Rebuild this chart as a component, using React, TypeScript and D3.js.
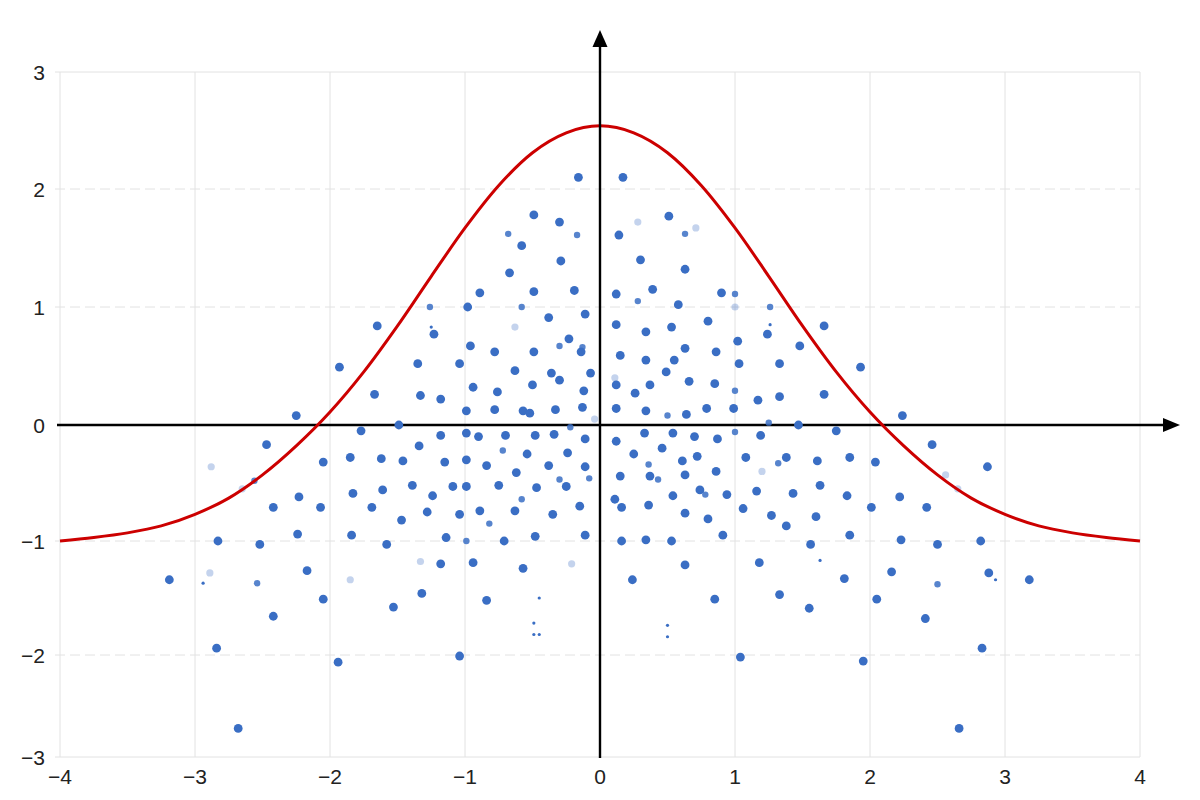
import React from 'react'
import * as d3 from 'd3'

// tick values
const xTicks = [-4, -3, -2, -1, 0, 1, 2, 3, 4]
const yTicks = [-3, -2, -1, 0, 1, 2, 3]

// red curve, every 0.25
const curveX = [-4, -3.75, -3.5, -3.25, -3, -2.75, -2.5, -2.25, -2, -1.75, -1.5, -1.25, -1, -0.75, -0.5, -0.25,
  0, 0.25, 0.5, 0.75, 1, 1.25, 1.5, 1.75, 2, 2.25, 2.5, 2.75, 3, 3.25, 3.5, 3.75, 4]
const curveY = [-1.0, -0.97, -0.93, -0.87, -0.77, -0.63, -0.43, -0.18, 0.11, 0.45, 0.84, 1.26, 1.67, 2.03, 2.31, 2.48,
  2.54, 2.48, 2.31, 2.03, 1.67, 1.26, 0.84, 0.45, 0.11, -0.18, -0.43, -0.63, -0.77, -0.87, -0.93, -0.97, -1.0]

// regular dots
const mainPoints: [number, number][] = [
  // left, outer
  [-2.25, 0.08], [-2.47, -0.17], [-2.05, -0.32], [-2.23, -0.62], [-2.42, -0.71], [-2.07, -0.71], [-2.24, -0.94],
  [-2.83, -1.0], [-2.52, -1.03], [-2.17, -1.26], [-3.19, -1.34], [-2.05, -1.51], [-2.42, -1.66], [-2.84, -1.94],
  [-2.68, -2.72],
  // left, lower
  [-1.77, -0.05], [-1.49, 0.0], [-1.18, -0.09], [-0.99, -0.07], [-0.9, -0.1], [-0.7, -0.09], [-0.48, -0.09],
  [-0.34, -0.08], [-0.11, -0.12], [-1.85, -0.28], [-1.62, -0.29], [-1.46, -0.31], [-1.34, -0.18], [-1.15, -0.32],
  [-0.99, -0.3], [-0.84, -0.35], [-0.54, -0.25], [-0.62, -0.41], [-0.38, -0.35], [-0.24, -0.24], [-0.11, -0.36],
  [-0.47, -0.54], [-0.25, -0.53], [-0.75, -0.52], [-0.99, -0.53], [-1.09, -0.53], [-1.39, -0.52], [-1.24, -0.61],
  [-1.61, -0.56], [-1.83, -0.59], [-1.69, -0.71], [-1.47, -0.82], [-1.28, -0.75], [-1.04, -0.77], [-0.89, -0.74],
  [-0.63, -0.74], [-0.35, -0.77], [-0.15, -0.7], [-1.84, -0.95], [-1.58, -1.03], [-1.14, -0.97], [-0.71, -1.0],
  [-0.48, -0.96], [-0.11, -0.95], [-1.18, -1.2], [-0.94, -1.19], [-0.57, -1.24], [-1.53, -1.58], [-1.32, -1.46],
  [-0.84, -1.52], [-1.94, -2.07], [-1.04, -2.01],
  // left, upper
  [-0.16, 2.1], [-0.49, 1.78], [-0.3, 1.72], [-0.58, 1.52], [-0.29, 1.39], [-0.67, 1.29], [-0.89, 1.12],
  [-0.49, 1.13], [-0.19, 1.14], [-0.98, 1.0], [-0.38, 0.91], [-0.11, 0.94], [-1.65, 0.84], [-1.23, 0.77],
  [-0.96, 0.67], [-0.78, 0.62], [-0.49, 0.62], [-0.23, 0.73], [-0.14, 0.62], [-1.93, 0.49], [-1.35, 0.52],
  [-1.04, 0.52], [-0.63, 0.46], [-0.36, 0.44], [-0.3, 0.38], [-0.07, 0.44], [-1.67, 0.26], [-1.33, 0.25],
  [-1.18, 0.22], [-0.94, 0.32], [-0.76, 0.28], [-0.5, 0.34], [-0.12, 0.29], [-0.33, 0.13], [-0.13, 0.15],
  [-0.99, 0.12], [-0.78, 0.13], [-0.57, 0.12], [-0.52, 0.1],
  // right, outer
  [2.24, 0.08], [2.46, -0.17], [2.04, -0.32], [2.87, -0.36], [2.22, -0.62], [2.42, -0.71], [2.01, -0.71],
  [2.23, -0.99], [2.5, -1.03], [2.82, -1.0], [2.16, -1.27], [2.88, -1.28], [3.18, -1.34], [2.05, -1.51],
  [2.41, -1.68], [2.83, -1.94], [2.66, -2.72],
  // right, lower
  [0.12, -0.14], [0.33, -0.07], [0.54, -0.07], [0.7, -0.1], [0.87, -0.12], [1.19, -0.09], [1.47, 0.0],
  [1.75, -0.05], [0.25, -0.25], [0.46, -0.2], [0.61, -0.31], [0.72, -0.27], [0.86, -0.4], [1.08, -0.28],
  [1.38, -0.28], [1.61, -0.31], [1.85, -0.28], [0.15, -0.44], [0.37, -0.44], [0.63, -0.43], [0.74, -0.56],
  [0.54, -0.61], [0.94, -0.6], [1.16, -0.57], [1.43, -0.59], [1.63, -0.52], [1.83, -0.61], [0.11, -0.64],
  [0.16, -0.71], [0.36, -0.69], [0.63, -0.76], [0.8, -0.81], [1.06, -0.72], [1.27, -0.78], [1.38, -0.87],
  [1.6, -0.79], [0.91, -0.95], [0.16, -1.0], [0.34, -0.99], [0.53, -1.0], [1.56, -1.03], [1.85, -0.95],
  [0.63, -1.21], [1.18, -1.19], [0.24, -1.34], [0.85, -1.51], [1.33, -1.47], [1.55, -1.59], [1.81, -1.33],
  [1.04, -2.02], [1.95, -2.06],
  // right, upper
  [0.17, 2.1], [0.51, 1.77], [0.14, 1.61], [0.3, 1.4], [0.63, 1.32], [0.12, 1.11], [0.39, 1.15], [0.9, 1.12],
  [0.58, 1.02], [0.12, 0.85], [0.34, 0.79], [0.53, 0.83], [0.8, 0.88], [1.24, 0.77], [1.66, 0.84], [1.02, 0.71],
  [1.48, 0.67], [0.15, 0.59], [0.34, 0.55], [0.55, 0.55], [0.63, 0.65], [0.86, 0.62], [1.03, 0.52], [1.33, 0.52],
  [1.93, 0.49], [0.49, 0.45], [0.12, 0.34], [0.37, 0.34], [0.66, 0.37], [0.85, 0.35], [1.17, 0.21], [1.33, 0.24],
  [1.66, 0.26], [0.26, 0.27], [0.12, 0.14], [0.34, 0.12], [0.64, 0.09], [0.79, 0.14], [0.99, 0.14],
]

// smaller dots
const smallPoints: [number, number][] = [
  [-2.56, -0.48], [-2.54, -1.37], [-0.22, -0.02], [-0.72, -0.22], [-0.08, -0.46], [-0.3, -0.47], [-0.82, -0.85],
  [-0.58, -0.64], [-0.99, -1.0], [-0.68, 1.62], [-0.17, 1.61], [-0.58, 1.0], [-1.26, 1.0], [-0.3, 0.67],
  [-0.13, 0.66], [2.5, -1.38], [1.0, -0.06], [1.25, 0.02], [0.36, -0.34], [1.32, -0.33], [0.43, -0.47],
  [0.78, -0.6], [0.63, 1.62], [0.28, 1.05], [1.0, 1.11], [1.26, 1.0], [1.0, 0.29], [0.5, 0.08],
]

// pin-point dots
const tinyPoints: [number, number][] = [
  [-2.94, -1.37], [-0.45, -1.5], [-0.49, -1.72], [-0.49, -1.82], [-0.45, -1.82], [-1.25, 0.83],
  [2.93, -1.34], [1.63, -1.17], [0.5, -1.74], [0.5, -1.84], [1.26, 0.85],
]

// washed-out dots
const faintPoints: [number, number][] = [
  [-2.88, -0.36], [-2.65, -0.55], [-2.89, -1.28], [-0.21, -1.2], [-1.85, -1.34], [-1.33, -1.18], [-0.63, 0.83],
  [-0.04, 0.05], [2.56, -0.43], [2.65, -0.55], [1.2, -0.4], [0.28, 1.72], [0.71, 1.67], [1.0, 1.0], [0.11, 0.4],
]

const W = 1200
const H = 800
const DOT = '#3a6ec4'
const GRID = '#e2e2e2'

const x = d3.scaleLinear().domain([-4, 4]).range([60, 1140])
// the picture's y spacing is a little uneven, so pin every tick
const y = d3.scaleLinear().domain(yTicks).range([757, 655, 541, 425, 307, 189, 72])

const fmt = (v: number) => (v < 0 ? `\u2212${-v}` : `${v}`)

const App: React.FC = () => {
  const line = d3.line<number>()
    .x((d, i) => x(curveX[i]))
    .y(d => y(d))
    .curve(d3.curveMonotoneX)

  const x0 = x(0)
  const y0 = y(0)

  return (
    <svg
      width={W}
      height={H}
      style={{ position: 'absolute', left: 0, top: 0, background: '#fff' }}
      fontFamily="'Liberation Sans', Arial, sans-serif"
    >
      {/* vertical grid */}
      {xTicks.map(t => (
        <line key={`gx${t}`} x1={x(t)} x2={x(t)} y1={y(3)} y2={y(-3)} stroke={GRID} strokeWidth={1} />
      ))}
      {/* horizontal grid: solid at the edges, dashed inside */}
      {yTicks.filter(t => t !== 0).map(t => (
        <line
          key={`gy${t}`}
          x1={55}
          x2={x(4)}
          y1={y(t)}
          y2={y(t)}
          stroke={GRID}
          strokeWidth={1}
          strokeDasharray={Math.abs(t) === 3 ? undefined : '10,5'}
        />
      ))}

      {/* x axis */}
      <line x1={57} x2={1166} y1={y0} y2={y0} stroke="#000" strokeWidth={2.4} />
      <path d={`M1180,${y0} L1163,${y0 - 7} L1163,${y0 + 7} Z`} fill="#000" />

      {/* dots */}
      {faintPoints.map((p, i) => (
        <circle key={`f${i}`} cx={x(p[0])} cy={y(p[1])} r={3.6} fill={DOT} opacity={0.3} />
      ))}
      {mainPoints.map((p, i) => (
        <circle key={`m${i}`} cx={x(p[0])} cy={y(p[1])} r={4.4} fill={DOT} />
      ))}
      {smallPoints.map((p, i) => (
        <circle key={`s${i}`} cx={x(p[0])} cy={y(p[1])} r={3.2} fill={DOT} opacity={0.85} />
      ))}
      {tinyPoints.map((p, i) => (
        <circle key={`t${i}`} cx={x(p[0])} cy={y(p[1])} r={1.6} fill={DOT} />
      ))}

      {/* curve */}
      <path d={line(curveY) || ''} fill="none" stroke="#cc0000" strokeWidth={3} strokeLinejoin="round" />

      {/* y axis */}
      <line x1={x0} x2={x0} y1={758} y2={45} stroke="#000" strokeWidth={2.4} />
      <path d={`M${x0},30 L${x0 - 7.5},47 L${x0 + 7.5},47 Z`} fill="#000" />

      {/* tick labels */}
      {xTicks.map(t => (
        <text key={`lx${t}`} x={x(t)} y={784} textAnchor="middle" fontSize={21} fill="#222">
          {fmt(t)}
        </text>
      ))}
      {yTicks.map(t => (
        <text key={`ly${t}`} x={45} y={y(t)} dy="0.36em" textAnchor="end" fontSize={21} fill="#222">
          {fmt(t)}
        </text>
      ))}
    </svg>
  )
}

export default App
